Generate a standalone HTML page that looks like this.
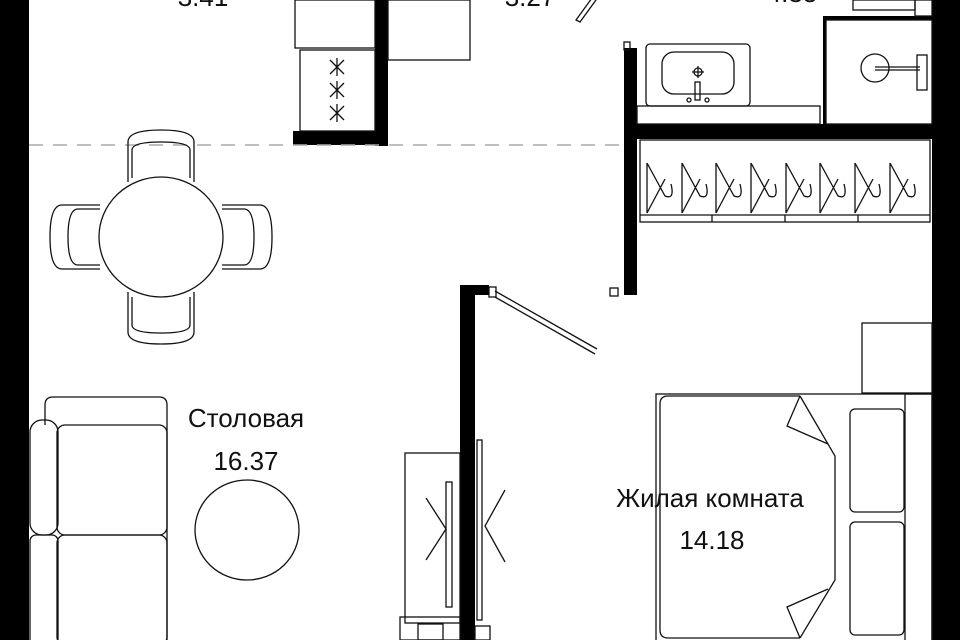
<!DOCTYPE html>
<html><head><meta charset="utf-8"><style>
html,body{margin:0;padding:0;background:#fff;width:960px;height:640px;overflow:hidden;}
svg{display:block;}
text{font-family:"Liberation Sans","DejaVu Sans",sans-serif;fill:#111;}
</style></head><body>
<svg width="960" height="640" viewBox="0 0 960 640" xmlns="http://www.w3.org/2000/svg">
<rect width="960" height="640" fill="#fff"/>
<g fill="#000">
<rect x="0" y="0" width="29" height="640"/>
<rect x="932" y="0" width="28" height="640"/>
<rect x="375" y="0" width="13" height="146"/>
<rect x="293" y="131" width="95" height="14"/>
<rect x="624" y="48" width="13" height="247"/>
<rect x="637" y="124" width="295" height="15"/>
<rect x="460" y="285" width="15" height="355"/>
<rect x="475" y="285" width="14" height="10"/>
<rect x="823" y="16" width="109" height="4"/>
<rect x="823" y="16" width="3" height="108"/>
</g>
<line x1="29" y1="145" x2="624" y2="145" stroke="#aaa" stroke-width="1.5" stroke-dasharray="14,10"/>
<g fill="none" stroke="#111" stroke-width="1.3">
<rect x="295" y="0" width="80" height="48"/>
<rect x="300" y="50" width="75" height="81"/>
<rect x="388" y="0" width="82" height="60"/>
<path d="M330 60l14 14M344 60l-14 14M337 58v18M330 83l14 14M344 83l-14 14M337 81v18M330 106l14 14M344 106l-14 14M337 104v18"/>
<path d="M576 20l16-22 4 2-16 22z"/>
<rect x="853" y="0" width="62" height="10"/>
<rect x="915" y="0" width="17" height="16"/>
<rect x="646" y="44" width="104" height="62" rx="4"/>
<rect x="662" y="52" width="72" height="42" rx="12"/>
<circle cx="698" cy="72" r="4"/><path d="M698 66v12M692 72h12"/>
<rect x="695" y="82" width="5" height="18"/>
<circle cx="689" cy="100" r="2"/><circle cx="707" cy="100" r="2"/>
<rect x="637" y="106" width="183" height="18"/>
<rect x="826" y="20" width="106" height="104"/>
<circle cx="875" cy="68" r="14"/>
<path d="M875 67h45M875 70h45"/>
<rect x="917" y="55" width="10" height="35"/>
<rect x="640" y="140" width="290" height="82"/>
<path d="M640 215h290M712 215v7M785 215v7M858 215v7"/>
<path d="M647 163v50l18-34M647 163l18 33q10 4 6-12M682 163v50l18-34M682 163l18 33q10 4 6-12M716 163v50l18-34M716 163l18 33q10 4 6-12M751 163v50l18-34M751 163l18 33q10 4 6-12M786 163v50l18-34M786 163l18 33q10 4 6-12M820 163v50l18-34M820 163l18 33q10 4 6-12M855 163v50l18-34M855 163l18 33q10 4 6-12M890 163v50l18-34M890 163l18 33q10 4 6-12"/>
<rect x="610" y="288" width="8" height="8"/>
<rect x="624" y="42" width="6" height="8"/>
<rect x="489" y="287" width="7" height="10"/>
<path d="M495 291l102 58M495 297l100 57"/>
<ellipse cx="161" cy="237" rx="62" ry="60"/>
<path d="M128 182v-40q0-12 33-12t33 12v40M132 178v-28q0-8 29-8t29 8v28"/>
<path d="M128 292v40q0 12 33 12t33-12v-40M132 297v28q0 8 29 8t29-8v-28"/>
<path d="M100 205h-38q-12 0-12 32t12 32h38M100 209h-22q-10 0-10 28t10 28h22"/>
<path d="M222 205h38q12 0 12 32t-12 32h-38M222 209h22q10 0 10 28t-10 28h-22"/>
<path d="M45 425v-20q0-8 8-8h106q8 0 8 8v235"/>
<rect x="30" y="420" width="28" height="115" rx="12"/>
<rect x="30" y="535" width="28" height="110" rx="6"/>
<rect x="57" y="425" width="110" height="110" rx="8"/>
<rect x="57" y="535" width="110" height="110" rx="8"/>
<ellipse cx="247" cy="530" rx="52" ry="50"/>
<rect x="405" y="453" width="55" height="170"/>
<rect x="446" y="482" width="6" height="125"/>
<path d="M426 498l20 31-20 31M505 490l-20 36 20 36"/>
<rect x="477" y="440" width="5" height="180"/>
<rect x="400" y="617" width="60" height="23"/>
<rect x="418" y="624" width="25" height="16"/>
<rect x="475" y="626" width="15" height="14"/>
<rect x="862" y="323" width="70" height="70"/>
<rect x="656" y="394" width="276" height="250"/>
<rect x="905" y="394" width="27" height="250"/>
<path d="M800 396h-132q-8 0-8 8v226q0 8 8 8h132"/>
<path d="M800 396l35 60v124l-35 58"/>
<path d="M800 396l-13 30 41 18M800 638l-13-31 41-18"/>
<rect x="850" y="409" width="54" height="103" rx="5"/>
<rect x="850" y="522" width="54" height="113" rx="5"/>
</g>
<g font-size="26" text-anchor="middle">
<text x="203" y="6">3.41</text>
<text x="530" y="6">3.27</text>
<text x="792" y="2">4.35</text>
<text x="246" y="427">Столовая</text>
<text x="246" y="470">16.37</text>
<text x="710" y="507">Жилая комната</text>
<text x="712" y="549">14.18</text>
</g>
</svg>
</body></html>
